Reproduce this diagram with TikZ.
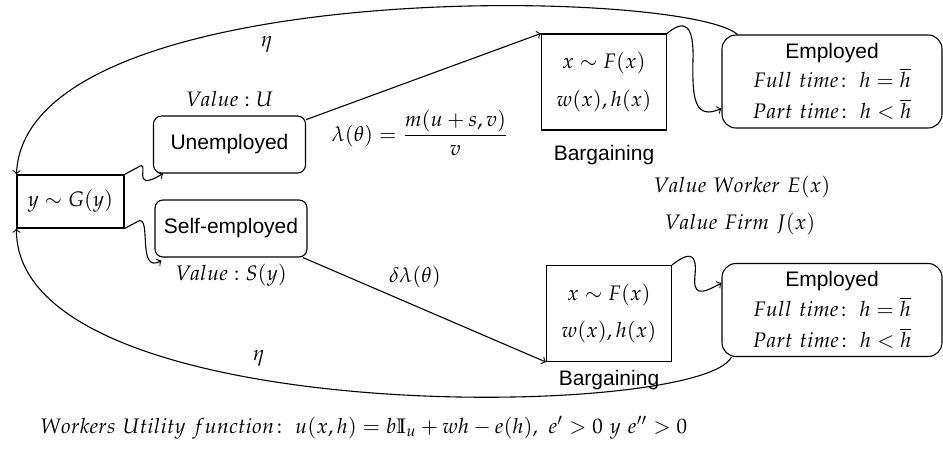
\documentclass[tikz,border=0pt]{standalone}
\usepackage{amsmath,amssymb}
\usepackage{mathpazo}
\usepackage[no-math]{fontspec}
\setsansfont{Liberation Sans}
\usepackage{tikz}
\usetikzlibrary{positioning, calc}
\tikzset{
  typebox/.style={rectangle, draw=black, minimum width=53.5pt, minimum height=26.5pt, inner sep=1pt},
  statebox/.style={rectangle, rounded corners=4pt, draw=black, minimum width=76pt, minimum height=28.5pt, font=\fontsize{10.5}{12.6}\sffamily},
  bargbox/.style={rectangle, draw=black, minimum width=62.5pt, minimum height=48pt, align=center},
  empbox/.style={rectangle, rounded corners=7pt, draw=black, minimum width=110pt, minimum height=46.5pt, align=center, inner sep=1pt},
  tag/.style={inner sep=1pt},
  sanstag/.style={inner sep=1pt, font=\fontsize{10.5}{12.6}\sffamily},
  arrow/.style={->}
}

\begin{document}
\begin{tikzpicture}[x=0.5pt, y=-0.5pt, line width=0.55pt, font=\fontsize{10.5}{12.6}\selectfont]
    \useasboundingbox (0,0) rectangle (943,457);
    % Nodes
    \node[typebox] (gy) at (70.5,201.5) {$y\sim G(y)$};
    \node[statebox] (unemp) at (229.5,144.5) {Unemployed};
    \node[statebox] (selfemp) at (231,228.5) {Self-employed};
    \node[bargbox] (barg1) at (604,82) {$x\sim F(x)$\\[6pt] $w(x),h(x)$};
    \node[bargbox] (barg2) at (609,313.5) {$x\sim F(x)$\\[6pt] $w(x),h(x)$};
    \node[empbox] (emp1) at (832,81.5) {{\sffamily Employed}\\[2pt] $Full\ time\!:\ h=\overline{h}$\\[3pt] $Part\ time\!:\ h<\overline{h}$};
    \node[empbox] (emp2) at (832,310) {{\sffamily Employed}\\[2pt] $Full\ time\!:\ h=\overline{h}$\\[3pt] $Part\ time\!:\ h<\overline{h}$};

    % Labels
    \node[tag, above=3pt of unemp] (valu) {$Value:U$};
    \node[tag, below=2pt of selfemp] (vals) {$Value:S(y)$};
    \node[sanstag, below=6pt of barg1] (bl1) {Bargaining};
    \node[sanstag, below=3pt of barg2] (bl2) {Bargaining};
    \node[tag] (lam) at (420,133) {$\lambda(\theta)=\dfrac{m(u+s,v)}{v}$};
    \node[tag] (dlam) at (415,277) {$\delta\lambda(\theta)$};
    \node[tag] (eta1) at (267,44) {$\eta$};
    \node[tag] (eta2) at (259,358) {$\eta$};
    \node[tag] (ew) at (742,187) {$Value\ Worker\ E(x)$};
    \node[tag] (jf) at (740,224) {$Value\ Firm\ J(x)$};
    \node[tag, anchor=west] (util) at (38,428) {$Workers\ Utility\ function\!:\ u(x,h)=b\mathbb{I}_u+wh-e(h),\ e'>0\ y\ e''>0$};

    % Coordinates for curve ends
    \coordinate (u1) at ($(unemp.south west)+(10,0)$);
    \coordinate (s1) at ($(selfemp.south west)+(7,3)$);
    \coordinate (e1top) at ($(emp1.north west)+(16,0)$);
    \coordinate (e2bot) at ($(emp2.south west)+(10,0)$);
    \coordinate (e1in) at ($(emp1.west)+(0,27)$);
    \coordinate (e2in) at ($(emp2.west)+(0,-27)$);

    % Arrows
    \draw[arrow] (gy.north east) -- ++(13,-7) .. controls +(15,-10) and (128,195) .. (u1);
    \draw[arrow] (gy.south east) -- ++(13,-7) .. controls +(15,-9) and (136,275) .. (s1);
    \draw[arrow] (unemp.18) -- (barg1.north west);
    \draw[arrow] (selfemp.-22) -- (barg2.south west);
    \draw[arrow] (barg1.north east) .. controls +(18,-15) and (694,25) .. (693,60) .. controls (692,100) and (695,120) .. (e1in);
    \draw[arrow] (barg2.north east) .. controls +(19,-15) and (697,255) .. (695,275) .. controls (693,295) and (700,295) .. (e2in);
    \draw[arrow] (e1top) .. controls (685,-12) and (25,-25) .. (gy.north west);
    \draw[arrow] (e2bot) .. controls (700,420) and (15,430) .. (gy.south west);
\end{tikzpicture}
\end{document}
